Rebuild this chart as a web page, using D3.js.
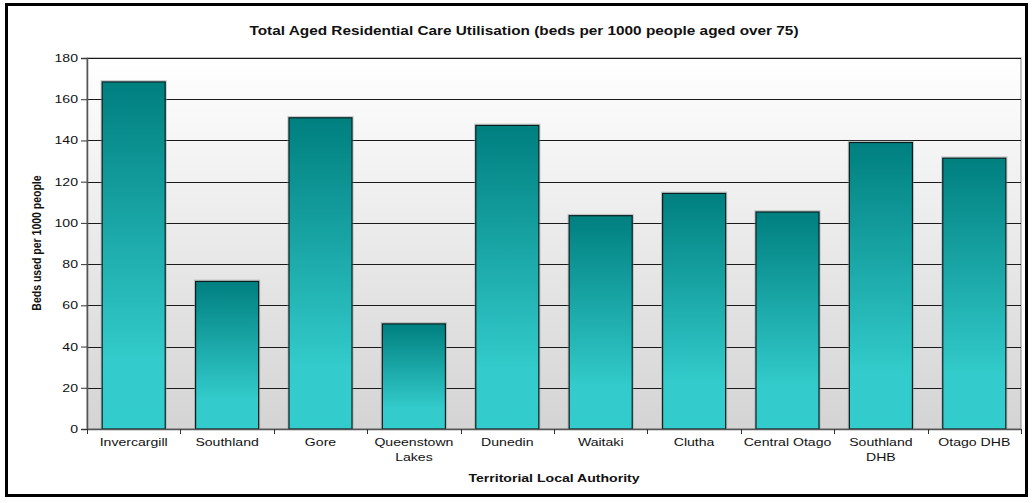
<!DOCTYPE html>
<meta charset="utf-8">
<head>
  <title>Aged residential care</title>
</head>

<style>
body {
  margin: 0;
  background: #fff;
  font-family: "Liberation Sans", Arial, sans-serif;
}
</style>

<body>
  <div id="content">
    <svg width="1032" height="503"></svg>
  </div>

  <script src="https://cdnjs.cloudflare.com/ajax/libs/d3/7.8.5/d3.min.js"></script>

  <script>
// data
var categories = ['Invercargill', 'Southland', 'Gore', 'Queenstown Lakes', 'Dunedin',
  'Waitaki', 'Clutha', 'Central Otago', 'Southland DHB', 'Otago DHB'];
// labels as they wrap under the bars
var catLines = [['Invercargill'], ['Southland'], ['Gore'], ['Queenstown', 'Lakes'], ['Dunedin'],
  ['Waitaki'], ['Clutha'], ['Central Otago'], ['Southland', 'DHB'], ['Otago DHB']];
var beds = [168.4, 71.6, 151, 51, 147.3, 103.5, 114.3, 105.3, 139, 131.4];
var yTicks = [0, 20, 40, 60, 80, 100, 120, 140, 160, 180];

var svg = d3.select('#content svg');

var plot = {left: 87, right: 1021, top: 58, bottom: 429};
var stretch = 1.28; // the original picture is stretched sideways

var x = d3.scaleBand()
  .domain(categories)
  .range([plot.left, plot.right])
  .paddingInner(0.325)
  .paddingOuter(0.1625);

var y = d3.scaleLinear()
  .domain([0, 180])
  .range([plot.bottom, plot.top]);

// text placed at (tx, ty) and widened horizontally
function wideText(g, tx, ty) {
  return g.append('text')
    .attr('transform', 'translate(' + tx + ',' + ty + ') scale(' + stretch + ',1)')
    .attr('fill', '#111');
}

var defs = svg.append('defs');

// plot background: white fading to light grey
var bg = defs.append('linearGradient')
  .attr('id', 'bg').attr('x1', 0).attr('y1', 0).attr('x2', 0).attr('y2', 1);
bg.append('stop').attr('offset', '0%').attr('stop-color', '#ffffff');
bg.append('stop').attr('offset', '100%').attr('stop-color', '#d4d4d4');

// bar fill: teal at top, turquoise lower down
var barGrad = defs.append('linearGradient')
  .attr('id', 'bar').attr('x1', 0).attr('y1', 0).attr('x2', 0).attr('y2', 1);
barGrad.append('stop').attr('offset', '0%').attr('stop-color', '#007f7f');
barGrad.append('stop').attr('offset', '80%').attr('stop-color', '#33cbcb');
barGrad.append('stop').attr('offset', '100%').attr('stop-color', '#33cccc');

svg.append('rect')
  .attr('x', plot.left).attr('y', plot.top)
  .attr('width', plot.right - plot.left)
  .attr('height', plot.bottom - plot.top)
  .attr('fill', 'url(#bg)')
  .attr('stroke', '#888').attr('stroke-width', 1);

// gridlines
svg.append('g')
  .selectAll('line')
  .data(yTicks.slice(1))
  .join('line')
  .attr('x1', plot.left).attr('x2', plot.right)
  .attr('y1', d => Math.round(y(d)) + 0.5)
  .attr('y2', d => Math.round(y(d)) + 0.5)
  .attr('stroke', '#1a1a1a')
  .attr('stroke-width', 1);

// bar shadows
svg.append('g')
  .selectAll('rect')
  .data(beds)
  .join('rect')
  .attr('x', (d, i) => x(categories[i]) - 1)
  .attr('y', d => y(d) - 1.2)
  .attr('width', x.bandwidth() + 2)
  .attr('height', d => y(0) - y(d) + 1.2)
  .attr('fill', 'none')
  .attr('stroke', '#9a9a9a')
  .attr('stroke-opacity', 0.5)
  .attr('stroke-width', 1.2);

// bars
svg.append('g')
  .selectAll('rect')
  .data(beds)
  .join('rect')
  .attr('x', (d, i) => x(categories[i]))
  .attr('y', d => y(d))
  .attr('width', x.bandwidth())
  .attr('height', d => y(0) - y(d))
  .attr('fill', 'url(#bar)')
  .attr('stroke', '#062020')
  .attr('stroke-width', 1.2);

// y axis
var yAxis = d3.axisLeft(y)
  .tickValues(yTicks)
  .tickSize(6)
  .tickFormat('');

svg.append('g')
  .attr('transform', 'translate(' + plot.left + ',0)')
  .call(yAxis)
  .call(g => g.select('.domain').attr('stroke', '#555').attr('stroke-width', 1.5))
  .call(g => g.selectAll('line').attr('stroke', '#333'));

var yLab = svg.append('g')
  .attr('font-size', 11)
  .attr('text-anchor', 'end');
yTicks.forEach(function(t) {
  wideText(yLab, 78, y(t) + 4).text(t);
});

// x axis with ticks between categories
var xBase = svg.append('g');
xBase.append('line')
  .attr('x1', plot.left).attr('x2', plot.right)
  .attr('y1', plot.bottom + 0.5).attr('y2', plot.bottom + 0.5)
  .attr('stroke', '#555').attr('stroke-width', 1.5);

var step = x.step();
xBase.selectAll('line.tick')
  .data(d3.range(categories.length + 1))
  .join('line')
  .attr('class', 'tick')
  .attr('x1', i => Math.round(plot.left + i * step) + 0.5)
  .attr('x2', i => Math.round(plot.left + i * step) + 0.5)
  .attr('y1', plot.bottom)
  .attr('y2', plot.bottom + 5)
  .attr('stroke', '#333');

var xLab = svg.append('g')
  .attr('font-size', 11)
  .attr('text-anchor', 'middle');
catLines.forEach(function(lines, i) {
  var cx = x(categories[i]) + x.bandwidth() / 2;
  lines.forEach(function(s, j) {
    wideText(xLab, cx, 446 + j * 15).text(s);
  });
});

// titles
var titles = svg.append('g')
  .attr('font-weight', 'bold')
  .attr('text-anchor', 'middle');

wideText(titles, 524, 35)
  .attr('font-size', 12)
  .text('Total Aged Residential Care Utilisation (beds per 1000 people aged over 75)');

wideText(titles, (plot.left + plot.right) / 2, 482)
  .attr('font-size', 11)
  .text('Territorial Local Authority');

titles.append('text')
  .attr('transform', 'translate(41,243) rotate(-90) scale(1,' + stretch + ')')
  .attr('font-size', 10.5)
  .attr('fill', '#111')
  .text('Beds used per 1000 people');

// outer frame
svg.append('rect')
  .attr('x', 6.5).attr('y', 4.5)
  .attr('width', 1020).attr('height', 491)
  .attr('fill', 'none')
  .attr('stroke', '#000')
  .attr('stroke-width', 3);
  </script>
</body>
</html>
